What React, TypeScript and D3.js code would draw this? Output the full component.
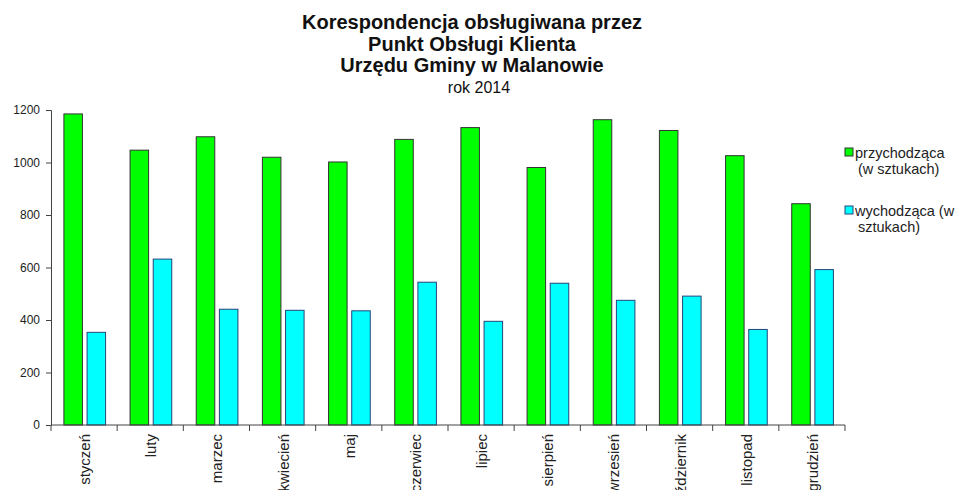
import React, { useEffect, useRef } from 'react'
import * as d3 from 'd3'

const months = ['styczeń', 'luty', 'marzec', 'kwiecień', 'maj', 'czerwiec', 'lipiec', 'sierpień', 'wrzesień', 'październik', 'listopad', 'grudzień']
const incoming = [1185, 1047, 1098, 1020, 1002, 1088, 1133, 981, 1163, 1122, 1026, 843]
const outgoing = [353, 632, 441, 437, 435, 544, 395, 540, 475, 491, 364, 592]
const yTicks = [0, 200, 400, 600, 800, 1000, 1200]
const titleLines = ['Korespondencja obsługiwana przez', 'Punkt Obsługi Klienta', 'Urzędu Gminy w Malanowie']
const subtitle = 'rok 2014'
const legendItems = [
  { lines: ['przychodząca', '(w sztukach)'], fill: '#00ff00', stroke: '#333' },
  { lines: ['wychodząca (w', 'sztukach)'], fill: '#00ffff', stroke: '#24457a' },
]

export default function App() {
  const ref = useRef<SVGSVGElement>(null)

  useEffect(() => {
    const svg = d3.select(ref.current)
    svg.selectAll('*').remove()
    const font = 'Arial, "Liberation Sans", sans-serif'

    const left = 51, right = 845, top = 110, bottom = 425
    const x = d3.scaleBand().domain(months).range([left, right])
    const y = d3.scaleLinear().domain([0, 1200]).range([bottom, top])
    const bw = x.bandwidth()
    const barW = bw * 0.28

    // title
    const t = svg.append('g').attr('font-family', font).attr('text-anchor', 'middle').attr('fill', '#111')
    titleLines.forEach((s, i) => {
      t.append('text').attr('x', 472).attr('y', 29 + i * 21.5).attr('font-size', 20).attr('font-weight', 'bold').text(s)
    })
    t.append('text').attr('x', 479).attr('y', 93).attr('font-size', 16).text(subtitle)

    // bars
    const g = svg.append('g')
    g.selectAll('.inc').data(months).enter().append('rect')
      .attr('x', (d) => x(d)! + bw * 0.195)
      .attr('y', (d, i) => y(incoming[i]))
      .attr('width', barW)
      .attr('height', (d, i) => bottom - y(incoming[i]))
      .attr('fill', '#00ff00').attr('stroke', '#333').attr('stroke-width', 1)
    g.selectAll('.out').data(months).enter().append('rect')
      .attr('x', (d) => x(d)! + bw * 0.545)
      .attr('y', (d, i) => y(outgoing[i]))
      .attr('width', barW)
      .attr('height', (d, i) => bottom - y(outgoing[i]))
      .attr('fill', '#00ffff').attr('stroke', '#24457a').attr('stroke-width', 1)

    // y axis
    const ya = svg.append('g').attr('transform', `translate(${left},0)`)
      .call(d3.axisLeft(y).tickValues(yTicks).tickSize(5).tickPadding(6).tickFormat(d3.format('d')))
    ya.selectAll('text').attr('font-family', font).attr('font-size', 12).attr('fill', '#222')
    ya.selectAll('line, path').attr('stroke', '#444')

    // x axis
    const xa = svg.append('g').attr('transform', `translate(0,${bottom})`)
    xa.append('line').attr('x1', left).attr('x2', right).attr('stroke', '#444')
    const bounds = months.map((m) => x(m)!).concat([right])
    xa.selectAll('.tk').data(bounds).enter().append('line')
      .attr('x1', (d) => d).attr('x2', (d) => d).attr('y1', 0).attr('y2', 6).attr('stroke', '#444')
    xa.selectAll('.lbl').data(months).enter().append('text')
      .attr('transform', (d) => `translate(${x(d)! + bw / 2 + 6},9) rotate(-90)`)
      .attr('text-anchor', 'end')
      .attr('font-family', font).attr('font-size', 15).attr('fill', '#222')
      .text((d) => d)

    // legend
    const lg = svg.append('g').attr('font-family', font).attr('font-size', 14.5).attr('fill', '#222')
    legendItems.forEach((it, i) => {
      const ly = 148 + i * 58
      lg.append('rect').attr('x', 845).attr('y', ly).attr('width', 8).attr('height', 8)
        .attr('fill', it.fill).attr('stroke', it.stroke)
      it.lines.forEach((s, j) => {
        lg.append('text').attr('x', j === 0 ? 855 : 858).attr('y', ly + 10 + j * 16).text(s)
      })
    })
  }, [])

  return (
    <svg ref={ref} width={956} height={490}
      style={{ position: 'absolute', left: 0, top: 0, background: '#fff' }} />
  )
}
